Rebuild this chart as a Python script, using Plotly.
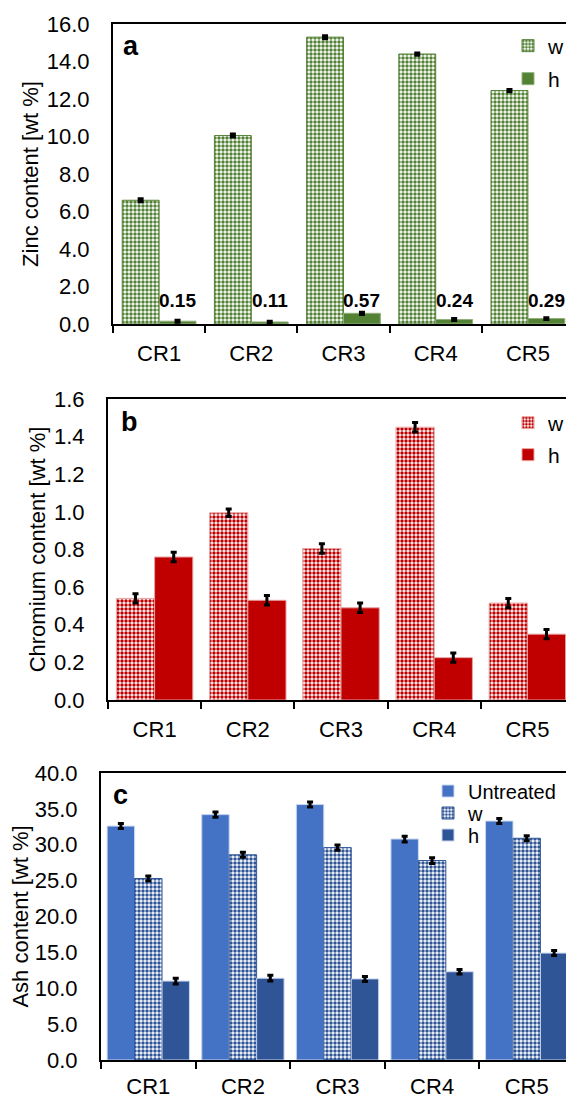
import plotly.graph_objects as go

categories = ["CR1", "CR2", "CR3", "CR4", "CR5"]

zinc_w = [6.6, 10.05, 15.3, 14.4, 12.45]
zinc_w_err = [0.08, 0.08, 0.08, 0.06, 0.06]
zinc_h = [0.15, 0.11, 0.57, 0.24, 0.29]
zinc_h_err = [0.05, 0.04, 0.06, 0.05, 0.05]
zinc_h_labels = ["0.15", "0.11", "0.57", "0.24", "0.29"]

chrom_w = [0.54, 0.995, 0.805, 1.45, 0.515]
chrom_w_err = [0.025, 0.02, 0.025, 0.025, 0.025]
chrom_h = [0.76, 0.53, 0.49, 0.225, 0.35]
chrom_h_err = [0.025, 0.025, 0.025, 0.025, 0.025]

ash_u = [32.6, 34.2, 35.6, 30.8, 33.3]
ash_u_err = [0.35, 0.35, 0.35, 0.4, 0.35]
ash_w = [25.3, 28.6, 29.6, 27.8, 30.9]
ash_w_err = [0.35, 0.35, 0.35, 0.4, 0.35]
ash_h = [11.0, 11.4, 11.3, 12.3, 14.9]
ash_h_err = [0.4, 0.4, 0.35, 0.3, 0.35]

FONT = "Liberation Sans, Arial, sans-serif"
GREEN = "#548235"
RED = "#C00000"
BLUE = "#4472C4"
DBLUE = "#2F5597"
PAGE_OFF = 8          # default body margin of the html page
W, H = 574 - PAGE_OFF, 1100 - PAGE_OFF


def fx(px):
    return (px - PAGE_OFF) / W


def fy(py):
    return 1 - (py - PAGE_OFF) / H


def err(arr):
    return dict(type="data", array=arr, visible=True, color="black", thickness=3, width=3)


def checker(color):
    return dict(shape=".", fgcolor=color, bgcolor="white", size=4, solidity=0.6, fillmode="replace")


fig = go.Figure()

# Panel a
fig.add_trace(go.Bar(x=categories, y=zinc_w, name="w", xaxis="x", yaxis="y", width=0.4, offset=-0.4,
                     marker=dict(color="white", pattern=checker(GREEN), line=dict(color=GREEN, width=1)),
                     error_y=err(zinc_w_err), legend="legend", showlegend=True))
fig.add_trace(go.Bar(x=categories, y=zinc_h, name="h", xaxis="x", yaxis="y", width=0.4, offset=0.0,
                     marker=dict(color=GREEN, line=dict(color="#8FB07A", width=1)),
                     error_y=err(zinc_h_err), legend="legend2", showlegend=True))

# Panel b
fig.add_trace(go.Bar(x=categories, y=chrom_w, name="w", xaxis="x2", yaxis="y2", width=0.41, offset=-0.41,
                     marker=dict(color="white", pattern=checker(RED), line=dict(color="#E8A0A0", width=1)),
                     error_y=err(chrom_w_err), legend="legend3", showlegend=True))
fig.add_trace(go.Bar(x=categories, y=chrom_h, name="h", xaxis="x2", yaxis="y2", width=0.41, offset=0.0,
                     marker=dict(color=RED, line=dict(color="#E8A0A0", width=1)),
                     error_y=err(chrom_h_err), legend="legend4", showlegend=True))

# Panel c
fig.add_trace(go.Bar(x=categories, y=ash_u, name="Untreated", xaxis="x3", yaxis="y3", width=0.29, offset=-0.435,
                     marker=dict(color=BLUE, line=dict(color="#C9D6EE", width=1)),
                     error_y=err(ash_u_err), legend="legend5", showlegend=True))
fig.add_trace(go.Bar(x=categories, y=ash_w, name="w", xaxis="x3", yaxis="y3", width=0.29, offset=-0.145,
                     marker=dict(color="white", pattern=checker(DBLUE), line=dict(color=DBLUE, width=1)),
                     error_y=err(ash_w_err), legend="legend6", showlegend=True))
fig.add_trace(go.Bar(x=categories, y=ash_h, name="h", xaxis="x3", yaxis="y3", width=0.29, offset=0.145,
                     marker=dict(color=DBLUE, line=dict(color="#C9D6EE", width=1)),
                     error_y=err(ash_h_err), legend="legend7", showlegend=True))


def xax(left, anchor, standoff):
    return dict(domain=[fx(left), 1.0], anchor=anchor, type="category",
                showline=True, linecolor="black", linewidth=2, mirror=True,
                ticks="outside", tickson="boundaries", ticklen=7, tickwidth=2, tickcolor="black",
                tickfont=dict(family=FONT, size=22, color="black"), ticklabelstandoff=standoff,
                showgrid=False, automargin=False, fixedrange=True)


def yax(top, bottom, rng, dtick, title, anchor):
    return dict(domain=[fy(bottom), fy(top)], anchor=anchor, range=rng, dtick=dtick, tickformat=".1f",
                showline=True, linecolor="black", linewidth=2, ticks="", showgrid=False, zeroline=False,
                tickfont=dict(family=FONT, size=22, color="black"), ticklabelstandoff=17,
                title=dict(text=title, font=dict(family=FONT, size=22, color="black"), standoff=2),
                automargin=False, fixedrange=True)


def leg(px_left, py_center, size=21):
    return dict(x=fx(px_left), y=fy(py_center), xanchor="left", yanchor="middle",
                font=dict(family=FONT, size=size, color="black"), bgcolor="rgba(0,0,0,0)",
                borderwidth=0, itemwidth=30, visible=True)


LABEL_Y = 1.26  # height (data units) of the value labels in panel a
annotations = []
for cat, lab in zip(categories, zinc_h_labels):
    annotations.append(dict(text=lab, x=cat, y=LABEL_Y, xref="x", yref="y", xshift=18.4,
                            xanchor="center", yanchor="middle", showarrow=False,
                            font=dict(family=FONT, size=19, color="black", weight="bold")))
for letter, lx, ly in [("a", 121, 46), ("b", 119, 422), ("c", 111, 795)]:
    annotations.append(dict(text="<b>%s</b>" % letter, x=fx(lx), y=fy(ly), xref="paper", yref="paper",
                            xanchor="left", yanchor="middle", showarrow=False,
                            font=dict(family=FONT, size=27, color="black")))

fig.update_layout(
    width=W, height=H,
    margin=dict(l=0, r=0, t=0, b=0),
    paper_bgcolor="white", plot_bgcolor="white",
    barmode="group", showlegend=True,
    font=dict(family=FONT, size=20, color="black"),
    xaxis=xax(113, "y", 9), yaxis=yax(24, 324, [0, 16], 2, "Zinc content [wt %]", "x"),
    xaxis2=xax(108, "y2", 9), yaxis2=yax(399, 700, [0, 1.6], 0.2, "Chromium content [wt %]", "x2"),
    xaxis3=xax(101, "y3", 6), yaxis3=yax(773, 1060, [0, 40], 5, "Ash content [wt %]", "x3"),
    legend=leg(508, 46), legend2=leg(508, 79),
    legend3=leg(508, 423), legend4=leg(508, 455),
    legend5=leg(428, 791, 20), legend6=leg(428, 813, 20), legend7=leg(428, 835, 20),
    annotations=annotations,
)

fig.write_html("out.html")
